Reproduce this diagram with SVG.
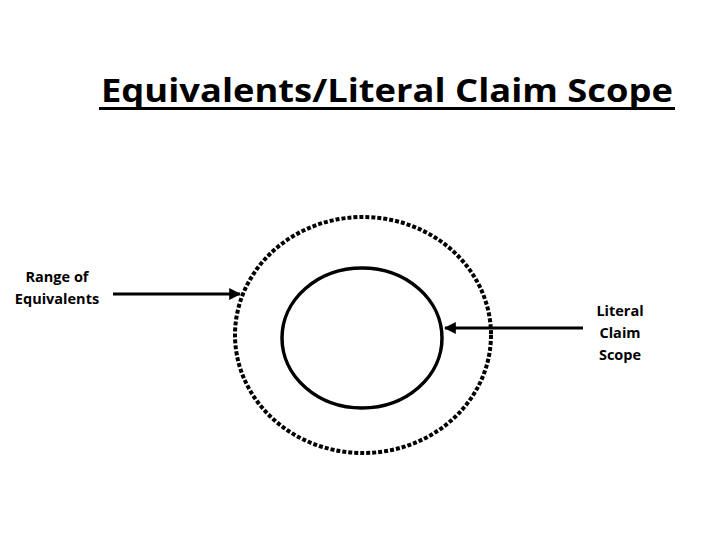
<svg xmlns="http://www.w3.org/2000/svg" width="720" height="540" viewBox="0 0 720 540">
<style>
text{font-family:"Open Sans","Liberation Sans",sans-serif;font-weight:bold;fill:#000}
.lbl{font-size:14.5px;text-anchor:middle}
.conn{stroke:#000;stroke-width:3;fill:none}
</style>
<defs>
<marker id="ah" viewBox="0 0 10 10" refX="9" refY="5" markerWidth="4" markerHeight="4" orient="auto" markerUnits="strokeWidth">
<path d="M0,0 L10,5 L0,10 z" fill="#000"/>
</marker>
</defs>
<rect width="720" height="540" fill="#fff"/>
<g id="title">
<text x="101" y="102" font-size="33" textLength="572" lengthAdjust="spacingAndGlyphs">Equivalents/Literal Claim Scope</text>
<rect x="99" y="107" width="576" height="3" fill="#000"/>
</g>
<g id="range-circle">
<ellipse cx="363" cy="335" rx="128" ry="118" fill="none" stroke="#000" stroke-width="4" stroke-dasharray="4 2"/>
</g>
<g id="literal-circle">
<ellipse cx="362" cy="338" rx="80" ry="70" fill="none" stroke="#000" stroke-width="3.5"/>
</g>
<g id="label-range">
<text class="lbl" x="57" y="282">Range of</text>
<text class="lbl" x="57" y="304">Equivalents</text>
</g>
<g id="label-literal">
<text class="lbl" x="620" y="316">Literal</text>
<text class="lbl" x="620" y="338">Claim</text>
<text class="lbl" x="620" y="360">Scope</text>
</g>
<g id="connectors">
<line class="conn" x1="113" y1="294" x2="240" y2="294" marker-end="url(#ah)"/>
<line class="conn" x1="583" y1="328" x2="445" y2="328" marker-end="url(#ah)"/>
</g>
</svg>
